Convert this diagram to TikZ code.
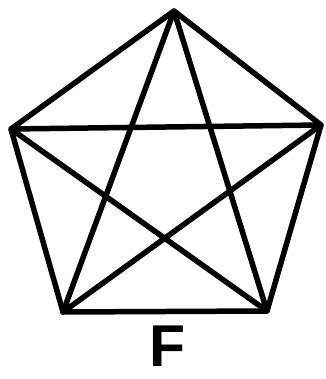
\documentclass[tikz,border=0pt]{standalone}
\usepackage{fontspec}
\setmainfont{Liberation Sans}
\begin{document}
\begin{tikzpicture}[x=1pt,y=-1pt,
  edge/.style={line width=5.5pt,line join=round,line cap=round},
  vert/.style={coordinate}]
\useasboundingbox (0,0) rectangle (325,379);
\coordinate (t) at (174,11);
\coordinate (l) at (11,129);
\coordinate (r) at (321,125);
\coordinate (bl) at (63,312);
\coordinate (br) at (267,311);
\draw[edge] (t) -- (r) -- (br) -- (bl) -- (l) -- cycle;
\draw[edge] (t) -- (bl) (t) -- (br) (l) -- (r) (l) -- (br) (r) -- (bl);
\node (lab) at (168,346) {\fontsize{59}{62}\selectfont\bfseries F};
\end{tikzpicture}
\end{document}
